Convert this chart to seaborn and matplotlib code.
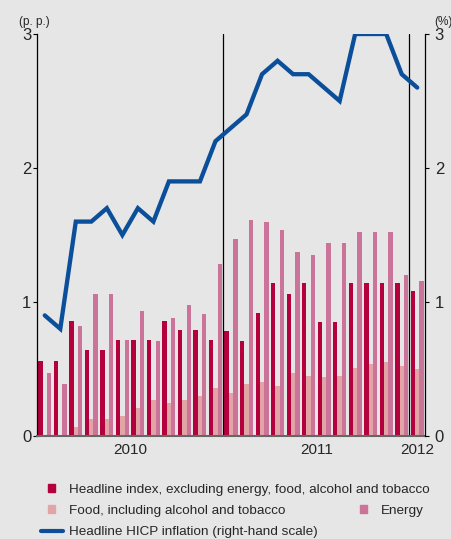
import pandas as pd
import matplotlib.pyplot as plt
import seaborn as sns
from matplotlib.patches import Patch
from matplotlib.lines import Line2D

# ==========================================
# 1. DADOS
# ==========================================
meses = ['2010-01', '2010-02', '2010-03', '2010-04', '2010-05', '2010-06',
         '2010-07', '2010-08', '2010-09', '2010-10', '2010-11', '2010-12',
         '2011-01', '2011-02', '2011-03', '2011-04', '2011-05', '2011-06',
         '2011-07', '2011-08', '2011-09', '2011-10', '2011-11', '2011-12',
         '2012-01']

nucleo = [0.56, 0.56, 0.86, 0.64, 0.64, 0.72, 0.72, 0.72, 0.86, 0.79, 0.79, 0.72,
          0.78, 0.71, 0.92, 1.14, 1.06, 1.14, 0.85, 0.85, 1.14, 1.14, 1.14, 1.14,
          1.08]
alimentos = [0.0, 0.0, 0.07, 0.13, 0.13, 0.15, 0.21, 0.27, 0.25, 0.27, 0.30, 0.36,
             0.32, 0.39, 0.40, 0.37, 0.47, 0.45, 0.44, 0.45, 0.51, 0.54, 0.55, 0.52,
             0.50]
energia = [0.47, 0.39, 0.82, 1.06, 1.06, 0.72, 0.93, 0.71, 0.88, 0.98, 0.91, 1.28,
           1.47, 1.61, 1.60, 1.54, 1.37, 1.35, 1.44, 1.44, 1.52, 1.52, 1.52, 1.20,
           1.16]
hicp = [0.9, 0.8, 1.6, 1.6, 1.7, 1.5, 1.7, 1.6, 1.9, 1.9, 1.9, 2.2,
        2.3, 2.4, 2.7, 2.8, 2.7, 2.7, 2.6, 2.5, 3.0, 3.0, 3.0, 2.7,
        2.6]

series = ['Headline index, excluding energy, food, alcohol and tobacco',
          'Food, including alcohol and tobacco',
          'Energy']
rotulo_linha = 'Headline HICP inflation (right-hand scale)'
anos = ['2010', '2011', '2012']
ticks_y = [0, 1, 2, 3]

# ==========================================
# 2. ESTILO
# ==========================================
FUNDO = '#e6e6e6'
VERMELHO = '#b4003c'
ROSA_CLARO = '#e2a5a5'
ROSA = '#cc7399'
AZUL = '#0b4f9b'
cores = [VERMELHO, ROSA_CLARO, ROSA]

sns.set_theme(style="white")
plt.rcParams['font.family'] = ['Liberation Sans', 'DejaVu Sans']

fig = plt.figure(figsize=(4.51, 5.39), dpi=100, facecolor=FUNDO)
ax = fig.add_axes([37 / 451, 1 - 436 / 539, 388 / 451, 402 / 539])
ax.set_facecolor(FUNDO)

df = pd.DataFrame({
    'mes': meses * 3,
    'serie': [s for s in series for _ in meses],
    'valor': nucleo + alimentos + energia,
})

sns.barplot(data=df, x='mes', y='valor', hue='serie', order=meses,
            hue_order=series, palette=cores, errorbar=None, width=0.84,
            saturation=1, legend=False, linewidth=0, edgecolor='none', ax=ax)

# separadores de ano
ax.axvline(11.5, color='black', lw=0.9, zorder=1)
ax.axvline(23.5, color='black', lw=0.9, zorder=1)

ax2 = ax.twinx()
sns.lineplot(x=list(range(len(meses))), y=hicp, ax=ax2, color=AZUL,
             lw=3.1, solid_joinstyle='miter')

for a in (ax, ax2):
    a.set_ylim(0, 3)
    a.set_yticks(ticks_y)
    a.set_xlim(-0.5, len(meses) - 0.5)
    a.set_ylabel('')
    a.set_xlabel('')
    for s in a.spines.values():
        s.set_visible(False)

ax.spines['left'].set_visible(True)
ax.spines['left'].set_color('black')
ax.spines['left'].set_linewidth(0.9)
ax.spines['bottom'].set_visible(True)
ax.spines['bottom'].set_color('#666666')
ax.spines['bottom'].set_linewidth(1.5)
ax2.spines['right'].set_visible(True)
ax2.spines['right'].set_color('black')
ax2.spines['right'].set_linewidth(0.9)

ax.set_yticklabels([str(t) for t in ticks_y])
ax2.set_yticklabels([str(t) for t in ticks_y])
ax.tick_params(axis='y', direction='out', length=3, width=0.8, color='black',
               labelsize=12, pad=1, left=True)
ax2.tick_params(axis='y', direction='out', length=3, width=0.8, color='black',
                labelsize=12, pad=4, right=True)

ax.set_xticks([5.5, 17.5, 24])
ax.set_xticklabels(anos)
ax.tick_params(axis='x', length=0, labelsize=11, pad=5, bottom=True)

fig.text(19 / 451, 1 - 22 / 539, '(p. p.)', fontsize=8.5, va='center', ha='left')
fig.text(434 / 451, 1 - 22 / 539, '(%)', fontsize=8.5, va='center', ha='left')

# ==========================================
# 3. LEGENDA (três blocos separados)
# ==========================================
fs = 9.7
kw = dict(frameon=False, fontsize=fs, loc='center left', borderaxespad=0,
          borderpad=0, handlelength=0.52, handleheight=0.52,
          handletextpad=1.05)
leg1 = fig.legend(handles=[Patch(color=VERMELHO)], labels=[series[0]],
                  bbox_to_anchor=(48 / 451, 1 - 490 / 539), **kw)
leg2 = fig.legend(handles=[Patch(color=ROSA_CLARO)], labels=[series[1]],
                  bbox_to_anchor=(48 / 451, 1 - 511 / 539), **kw)
leg3 = fig.legend(handles=[Patch(color=ROSA)], labels=[series[2]],
                  bbox_to_anchor=(360 / 451, 1 - 511 / 539), **kw)
leg4 = fig.legend(handles=[Line2D([0], [0], color=AZUL, lw=3)],
                  labels=[rotulo_linha], frameon=False, fontsize=fs,
                  loc='center left', borderaxespad=0, borderpad=0,
                  handlelength=1.65, handletextpad=0.45,
                  bbox_to_anchor=(41 / 451, 1 - 532 / 539))

fig.savefig('out.png', dpi=100, facecolor=FUNDO)
